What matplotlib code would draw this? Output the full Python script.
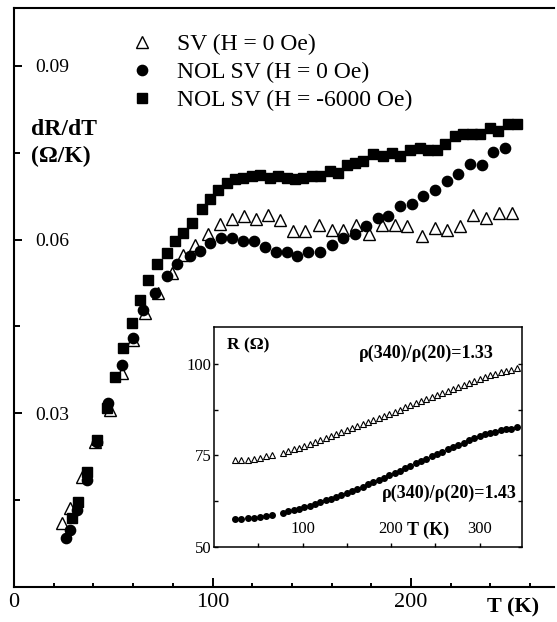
import matplotlib
matplotlib.use("Agg")
import matplotlib.pyplot as plt

plt.rcParams['font.family'] = ['Liberation Serif', 'DejaVu Serif']

# dR/dT main panel
T_sq = [29.1, 32.4, 36.6, 41.6, 46.7, 50.9, 55.1, 59.3, 63.5, 67.7, 71.9, 76.9, 81.1,
        85.3, 89.5, 94.5, 98.7, 102.9, 107.1, 111.3, 115.5, 119.7, 123.9, 129.0, 133.1,
        137.3, 141.5, 145.7, 149.9, 154.1, 159.2, 163.4, 167.6, 171.8, 176.0, 181.0,
        186.0, 190.3, 194.5, 199.5, 204.5, 208.7, 212.9, 217.1, 222.2, 226.3, 230.5,
        234.7, 239.8, 244.0, 249.0, 253.2]
dRdT_sq = [0.0119, 0.0147, 0.0199, 0.0254, 0.0309, 0.0363, 0.0413, 0.0456, 0.0496,
           0.0531, 0.0557, 0.0577, 0.0597, 0.0612, 0.0629, 0.0652, 0.0670, 0.0686,
           0.0698, 0.0705, 0.0706, 0.0709, 0.0711, 0.0707, 0.0709, 0.0707, 0.0704,
           0.0707, 0.0709, 0.0709, 0.0719, 0.0715, 0.0729, 0.0732, 0.0736, 0.0748,
           0.0744, 0.0750, 0.0744, 0.0754, 0.0758, 0.0755, 0.0754, 0.0765, 0.0779,
           0.0783, 0.0782, 0.0782, 0.0793, 0.0788, 0.0800, 0.0800]

T_tri = [24.0, 28.2, 34.1, 40.8, 48.4, 54.2, 60.1, 66.0, 72.7, 79.4, 85.3, 91.2, 97.9,
         103.8, 109.6, 115.9, 121.9, 128.1, 134.0, 140.7, 146.6, 153.8, 160.0, 165.9,
         172.3, 179.0, 185.2, 191.9, 197.8, 205.3, 212.1, 218.0, 224.7, 231.4, 237.8,
         244.5, 250.7]
dRdT_tri = [0.0110, 0.0136, 0.0190, 0.0251, 0.0306, 0.0369, 0.0427, 0.0473, 0.0508,
            0.0542, 0.0574, 0.0591, 0.0610, 0.0627, 0.0635, 0.0641, 0.0635, 0.0642,
            0.0633, 0.0615, 0.0615, 0.0625, 0.0617, 0.0617, 0.0625, 0.0609, 0.0625,
            0.0626, 0.0623, 0.0606, 0.0620, 0.0617, 0.0623, 0.0642, 0.0637, 0.0646,
            0.0646]

T_circ = [26.0, 28.0, 31.6, 36.6, 42.0, 47.5, 54.2, 60.1, 65.0, 71.0, 76.9, 81.9, 88.7,
          93.7, 98.7, 104.1, 109.6, 115.2, 120.9, 126.4, 132.0, 137.4, 142.7, 148.3,
          154.2, 160.0, 165.9, 171.8, 177.4, 183.2, 188.6, 194.5, 200.3, 206.2, 212.1,
          218.0, 223.8, 229.7, 235.6, 241.5, 247.4]
dRdT_circ = [0.0085, 0.0098, 0.0133, 0.0185, 0.0251, 0.0317, 0.0384, 0.0430, 0.0478,
             0.0508, 0.0537, 0.0557, 0.0571, 0.0581, 0.0594, 0.0602, 0.0603, 0.0598,
             0.0597, 0.0588, 0.0578, 0.0578, 0.0571, 0.0578, 0.0578, 0.0590, 0.0603,
             0.0610, 0.0624, 0.0637, 0.0640, 0.0658, 0.0662, 0.0675, 0.0685, 0.0701,
             0.0714, 0.0730, 0.0729, 0.0752, 0.0758]

# R(T) inset
T_in = [24, 31, 38, 45, 52, 59, 66,
        78, 84, 90, 96, 102, 108, 114, 120, 126, 132, 138, 144, 150, 156, 162, 168,
        174, 180, 186, 192, 198, 204, 210, 216, 222, 228, 234, 240, 246, 252, 258,
        264, 270, 276, 282, 288, 294, 300, 306, 312, 318, 324, 330, 336, 342]
R_sv = [73.7, 73.7, 73.8, 74.1, 74.4, 74.8, 75.1,
        75.7, 76.1, 76.6, 77.1, 77.6, 78.1, 78.6, 79.2, 79.7, 80.3, 80.8, 81.3, 81.9,
        82.4, 83.0, 83.5, 84.1, 84.7, 85.2, 85.8, 86.4, 86.9, 87.5, 88.1, 88.6, 89.2,
        89.8, 90.3, 90.9, 91.5, 92.0, 92.6, 93.2, 93.7, 94.3, 94.8, 95.3, 95.8, 96.3,
        96.8, 97.2, 97.6, 98.0, 98.3, 98.9]
R_nol = [57.6, 57.7, 57.8, 58.0, 58.2, 58.5, 58.8,
         59.4, 59.7, 60.1, 60.5, 60.9, 61.3, 61.8, 62.2, 62.7, 63.2, 63.7, 64.2, 64.8,
         65.3, 65.9, 66.5, 67.1, 67.7, 68.3, 68.9, 69.6, 70.2, 70.8, 71.5, 72.1, 72.8,
         73.4, 74.1, 74.7, 75.4, 76.0, 76.7, 77.3, 77.9, 78.5, 79.1, 79.7, 80.2, 80.7,
         81.1, 81.5, 81.8, 82.1, 82.3, 82.6]

W, H = 557, 622
fig = plt.figure(figsize=(W / 100, H / 100), dpi=100)

ax = fig.add_axes([14 / W, 1 - 587 / H, 540 / W, 579 / H])
ax.plot(T_tri, dRdT_tri, '^', ms=8.4, mfc='white', mec='black', mew=1.0, ls='none',
        label='SV (H = 0 Oe)')
ax.plot(T_circ, dRdT_circ, 'o', ms=7.4, color='black', ls='none',
        label='NOL SV (H = 0 Oe)')
ax.plot(T_sq, dRdT_sq, 's', ms=7.0, color='black', ls='none',
        label='NOL SV (H = -6000 Oe)')

ax.set_xlim(0, 272)
ax.set_ylim(0, 0.1)
ax.set_xticks([0, 100, 200])
ax.set_xticks(range(20, 272, 20), minor=True)
ax.set_xticklabels(['0', '100', '200'], fontsize=16)
ax.set_yticks([0.03, 0.06, 0.09])
ax.set_yticks([0.015, 0.045, 0.075], minor=True)
ax.set_yticklabels(['0.03', '0.06', '0.09'], fontsize=14)
ax.tick_params(axis='x', which='major', direction='in', length=6.5, width=1.4, pad=4)
ax.tick_params(axis='x', which='minor', direction='in', length=3.2, width=1.4)
ax.tick_params(axis='y', which='major', direction='in', length=6, width=1.4, pad=-15)
ax.tick_params(axis='y', which='minor', direction='in', length=4.5, width=1.4)
for lab in ax.get_yticklabels():
    lab.set_horizontalalignment('left')
for s in ['left', 'bottom', 'top']:
    ax.spines[s].set_linewidth(1.5)
ax.spines['right'].set_visible(False)

ax.text(8.6, 0.0791, 'dR/dT', fontsize=17, fontweight='bold', ha='left', va='center')
ax.text(8.6, 0.0744, '(\u03a9/K)', fontsize=17, fontweight='bold', ha='left', va='center')
ax.text(0.924, -0.036, 'T (K)', transform=ax.transAxes, fontsize=16, fontweight='bold',
        ha='center', va='center')

ax.legend(loc='upper left', bbox_to_anchor=(130 / W, 1 - 34 / H),
          bbox_transform=fig.transFigure, frameon=False, fontsize=17,
          handlelength=1.0, handletextpad=1.0, borderpad=0, borderaxespad=0,
          labelspacing=0.27)

# inset
ax2 = fig.add_axes([214 / W, 1 - 547 / H, 308 / W, 220 / H])
ax2.plot(T_in, R_sv, '^', ms=4.3, mfc='white', mec='black', mew=0.8, ls='none')
ax2.plot(T_in, R_nol, 'o', ms=4.0, color='black', ls='none')
ax2.set_xlim(0, 348)
ax2.set_ylim(50, 110)
ax2.set_xticks([50, 100, 150, 200, 250, 300])
ax2.set_xticklabels(['', '100', '', '200', '', '300'], fontsize=12)
ax2.set_yticks([50, 75, 100])
ax2.set_yticks([62.5, 87.5], minor=True)
ax2.set_yticklabels(['50', '75', '100'], fontsize=12)
ax2.tick_params(axis='x', direction='in', length=3, width=1.0, pad=-19)
ax2.tick_params(axis='y', which='both', direction='in', length=3, width=1.0, pad=2,
                right=True)
for s in ax2.spines.values():
    s.set_linewidth(1.1)

ax2.text(0.042, 0.918, 'R (\u03a9)', transform=ax2.transAxes, fontsize=12.5,
         fontweight='bold', ha='left', va='center')
ax2.text(0.909, 0.882, '\u03c1(340)/\u03c1(20)=1.33', transform=ax2.transAxes,
         fontsize=13, fontweight='bold', ha='right', va='center')
ax2.text(0.984, 0.245, '\u03c1(340)/\u03c1(20)=1.43', transform=ax2.transAxes,
         fontsize=13, fontweight='bold', ha='right', va='center')
ax2.text(218, 0.077, 'T (K)', transform=ax2.get_xaxis_transform(), fontsize=13,
         fontweight='bold', ha='left', va='center')

fig.savefig('out.png', dpi=100)
